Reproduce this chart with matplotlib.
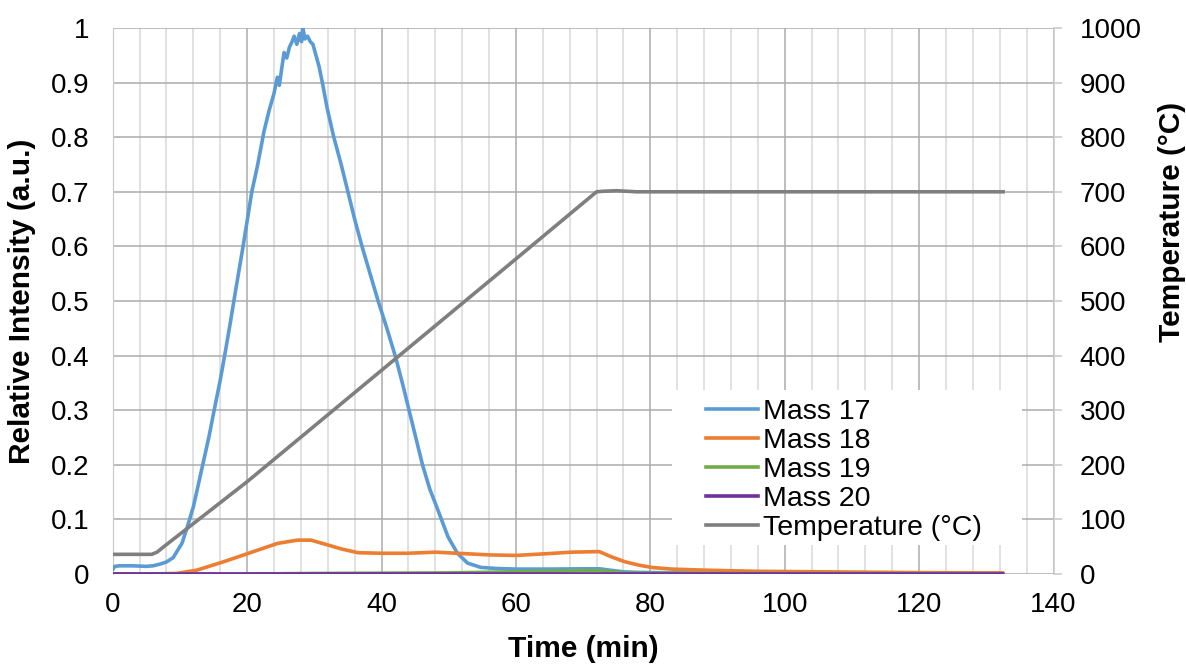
#!/usr/bin/python
# -*- encoding: utf-8 -*-
'''
TPD style plot: mass signals (left axis) and temperature ramp (right axis)
'''

import numpy as np
import matplotlib
matplotlib.use('Agg')
import matplotlib.pyplot as plt
from matplotlib.ticker import MultipleLocator, FuncFormatter
from matplotlib.lines import Line2D
from matplotlib.patches import Rectangle

#* Data
mass17_t = [0, 0.3, 1, 3, 5, 6, 7, 8, 9, 10.3, 11.1, 12, 13, 14.3, 15.1, 16, 16.8,
            17.5, 18.3, 19.4, 20.7, 21.5, 22.2, 22.5, 23.3, 24.0, 24.5, 24.8, 25.2,
            25.5, 25.9, 26.3, 26.7, 27.0, 27.4, 27.8, 28.1, 28.3, 28.6, 29.0, 29.4,
            29.8, 30.2, 30.7, 31.2, 31.9, 32.9, 34.0, 35.0, 36.0, 37.1, 38.3, 39.5,
            40.8, 42.1, 43.1, 44.1, 45.1, 46.1, 47.2, 48.4, 49.9, 51.3, 52.8, 54.8,
            57.3, 60, 65, 70, 72.5, 74, 76, 78, 85, 100, 120, 132.5]
mass17 = [0.008, 0.014, 0.015, 0.015, 0.014, 0.015, 0.018, 0.022, 0.03, 0.056, 0.086,
          0.123, 0.178, 0.25, 0.30, 0.355, 0.41, 0.46, 0.52, 0.60, 0.70, 0.745, 0.79,
          0.81, 0.85, 0.88, 0.91, 0.895, 0.93, 0.955, 0.945, 0.965, 0.975, 0.985,
          0.97, 0.99, 0.975, 1.0, 0.98, 0.985, 0.975, 0.97, 0.952, 0.93, 0.90, 0.854,
          0.80, 0.75, 0.70, 0.65, 0.60, 0.55, 0.50, 0.45, 0.397, 0.35, 0.30, 0.25,
          0.20, 0.155, 0.117, 0.068, 0.038, 0.02, 0.012, 0.01, 0.009, 0.009, 0.0095,
          0.0095, 0.007, 0.004, 0.003, 0.002, 0.0015, 0.0015, 0.0015]

mass18_t = [0, 5, 9.5, 12.5, 16.4, 20, 24.5, 27.5, 29.5, 31.5, 34, 36.5, 40, 44, 48,
            52, 56, 60, 64.3, 68.3, 72.4, 74.1, 76.2, 78.2, 80.2, 83.2, 88.2, 95.6,
            105.6, 120, 132.5]
mass18 = [0.0, 0.0, 0.001, 0.007, 0.022, 0.037, 0.056, 0.062, 0.062, 0.055, 0.046,
          0.039, 0.038, 0.038, 0.040, 0.0375, 0.035, 0.034, 0.037, 0.040, 0.041, 0.032,
          0.0225, 0.0165, 0.012, 0.009, 0.007, 0.005, 0.004, 0.0025, 0.002]

mass19_t = [0, 20, 30, 50, 60, 70, 72.5, 76, 80, 132.5]
mass19 = [0.0, 0.0, 0.001, 0.002, 0.004, 0.006, 0.006, 0.002, 0.001, 0.0005]

mass20_t = [0, 132.5]
mass20 = [0.0, 0.0]

temp_t = [0, 5.8, 6.6, 7.6, 20, 40, 60, 72.0, 73, 75, 78, 132.5]
temp = [36, 36, 40, 50, 169, 373, 577, 700, 701, 702, 700, 700]

labels = ['Mass 17', 'Mass 18', 'Mass 19', 'Mass 20', 'Temperature (°C)']
colours = ['#5B9BD5', '#ED7D31', '#70AD47', '#7030A0', '#7F7F7F']

#* Style
plt.rcParams['font.family'] = ['Liberation Sans', 'DejaVu Sans']
TICK_SIZE = 20
LABEL_SIZE = 21.5
LW = 2.6
MAJOR_GRID = '#ABABAB'
MINOR_GRID = '#D9D9D9'
SPINE = '#C8C8C8'

fig = plt.figure(figsize=(11.86, 6.64), dpi=100)
ax = fig.add_axes([112.7 / 1186, 1 - 574 / 664, 940.8 / 1186, 546 / 664])
ax2 = ax.twinx()

# mass signals
series = [(mass17_t, mass17), (mass18_t, mass18), (mass19_t, mass19),
          (mass20_t, mass20)]
for (t, y), c in zip(series, colours[:4]):
    ax.plot(t, y, color=c, lw=LW, solid_capstyle='round', zorder=3)

# temperature on the secondary axis
ax2.plot(temp_t, temp, color=colours[4], lw=LW, zorder=3)

# Axes limits / ticks
ax.set_xlim(0, 140)
ax.set_ylim(0, 1)
ax2.set_ylim(0, 1000)
ax.xaxis.set_major_locator(MultipleLocator(20))
ax.xaxis.set_minor_locator(MultipleLocator(4))
ax.yaxis.set_major_locator(MultipleLocator(0.1))
ax2.yaxis.set_major_locator(MultipleLocator(100))
ax.yaxis.set_major_formatter(FuncFormatter(lambda v, p: f'{v:.1f}'.rstrip('0').rstrip('.')))

# Gridlines
ax.grid(which='major', axis='both', color=MAJOR_GRID, lw=1.1, zorder=0)
ax.grid(which='minor', axis='x', color=MINOR_GRID, lw=1.1, zorder=0)
ax.set_axisbelow(True)

ax.tick_params(axis='both', which='both', length=0, labelsize=TICK_SIZE,
               colors='black')
ax.tick_params(axis='y', pad=17)
ax.tick_params(axis='x', pad=13)
ax2.tick_params(axis='y', which='major', direction='out', length=5.8, width=1.1,
                color=SPINE, labelsize=TICK_SIZE, labelcolor='black', pad=13)

for a in (ax, ax2):
    for side in ('top', 'bottom'):
        a.spines[side].set_visible(False)
ax.spines['left'].set_color(SPINE)
ax.spines['right'].set_visible(False)
ax2.spines['left'].set_visible(False)
ax2.spines['right'].set_color(SPINE)
ax2.spines['right'].set_linewidth(1.1)

# Labels
ax.set_xlabel('Time (min)', fontsize=LABEL_SIZE, fontweight='bold')
ax.set_ylabel('Relative Intensity (a.u.)', fontsize=LABEL_SIZE, fontweight='bold')
ax2.set_ylabel('Temperature (°C)', fontsize=LABEL_SIZE, fontweight='bold')
ax.xaxis.set_label_coords(0.5, -0.112)
ax.yaxis.set_label_coords(-0.0818, 0.5)
ax2.yaxis.set_label_coords(1.1116, 0.645)

# Legend: white box behind a frameless legend
ax2.add_patch(Rectangle((0.594, 0.053), 0.372, 0.284, transform=ax2.transAxes,
                        facecolor='white', edgecolor='none', zorder=1))
handles = [Line2D([], [], color=c, lw=LW) for c in colours]
leg = ax2.legend(handles, labels, loc='upper left', bbox_to_anchor=(0.631, 0.320),
                 frameon=False, fontsize=20.5, borderpad=0, borderaxespad=0,
                 handlelength=1.8, handletextpad=0.2, labelspacing=0.1)
leg.set_zorder(5)

fig.savefig('out.png', dpi=100)
